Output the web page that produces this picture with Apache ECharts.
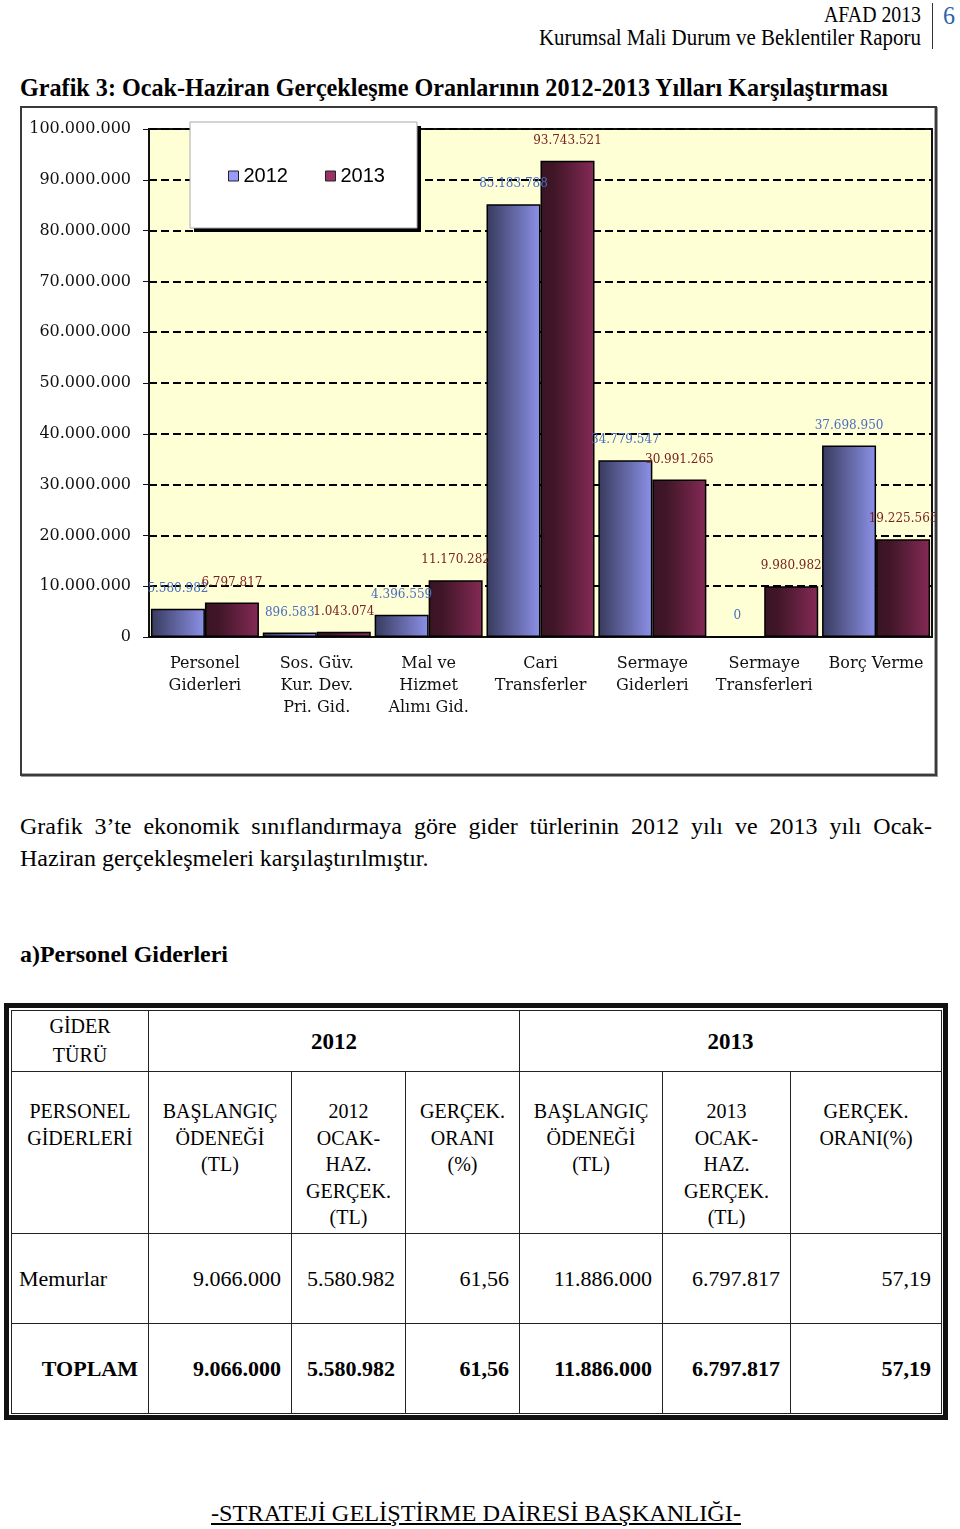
<!DOCTYPE html>
<html><head><meta charset="utf-8">
<script src="https://cdn.jsdelivr.net/npm/echarts@6/dist/echarts.min.js"></script>
<style>
html,body{margin:0;padding:0;background:#fff}
body{width:960px;height:1529px;position:relative;overflow:hidden;font-family:"Liberation Serif","Times New Roman",serif;color:#000}
.abs{position:absolute;white-space:nowrap;display:inline-block;transform-origin:left top}
#frame{position:absolute;left:20px;top:106px;width:917px;height:670px;box-sizing:border-box;border:2px solid #3a3a3a;box-shadow:inset -1px -1px 0 #aaa, 1px 1px 0 #999}
#chart{position:absolute;left:22px;top:108px;width:913px;height:666px}
#tblwrap{position:absolute;left:4px;top:1003px;width:944px;height:417px;box-sizing:border-box;border:5px solid #111;padding:2px;background:#fff}
table{border-collapse:collapse;table-layout:fixed;width:930px;height:403px}
td{border:1px solid #222;padding:0;text-align:center;vertical-align:middle;overflow:hidden}
.h1 td{font-size:20px;line-height:29px}
.h1 td.b{font-weight:bold;font-size:23px}
.h2 td{font-size:20px;line-height:26.5px;vertical-align:top;padding-top:26px}
.dr td{font-size:22px;text-align:right;padding-right:10px}
.dr td.l{text-align:left;padding-left:7px;padding-right:0}
.tot td{font-weight:bold}
</style>
</head><body>

<span class="abs" data-w="97" style="left:824px;top:2px;font-size:24px;line-height:24px">AFAD 2013</span>
<span class="abs" data-w="382" style="left:539px;top:26px;font-size:23px;line-height:23px">Kurumsal Mali Durum ve Beklentiler Raporu</span>
<div style="position:absolute;left:932px;top:3px;width:1px;height:46px;background:#333"></div>
<span class="abs" data-w="12" style="left:943px;top:3px;font-size:26px;line-height:26px;color:#2a62a8">6</span>

<span class="abs" data-w="868" style="left:20px;top:75px;font-size:26px;line-height:26px;font-weight:bold">Grafik 3: Ocak-Haziran Gerçekleşme Oranlarının 2012-2013 Yılları Karşılaştırması</span>

<div id="frame"></div>
<div id="chart"></div>

<div style="position:absolute;left:20px;top:810px;width:912px;font-size:24px;line-height:32px;text-align:justify;text-align-last:justify;white-space:nowrap">Grafik 3’te ekonomik sınıflandırmaya göre gider türlerinin 2012 yılı ve 2013 yılı Ocak-</div>
<div style="position:absolute;left:20px;top:842px;font-size:24px;line-height:32px;white-space:nowrap">Haziran gerçekleşmeleri karşılaştırılmıştır.</div>

<span class="abs" data-w="208" style="left:20px;top:942px;font-size:24px;line-height:24px;font-weight:bold">a)Personel Giderleri</span>

<div id="tblwrap">
<table>
<colgroup><col style="width:137px"><col style="width:143px"><col style="width:114px"><col style="width:114px"><col style="width:143px"><col style="width:128px"><col style="width:151px"></colgroup>
<tr class="h1" style="height:61px"><td>GİDER<br>TÜRÜ</td><td colspan="3" class="b">2012</td><td colspan="3" class="b">2013</td></tr>
<tr class="h2" style="height:162px"><td>PERSONEL<br>GİDERLERİ</td><td>BAŞLANGIÇ<br>ÖDENEĞİ<br>(TL)</td><td>2012<br>OCAK-<br>HAZ.<br>GERÇEK.<br>(TL)</td><td>GERÇEK.<br>ORANI<br>(%)</td><td>BAŞLANGIÇ<br>ÖDENEĞİ<br>(TL)</td><td>2013<br>OCAK-<br>HAZ.<br>GERÇEK.<br>(TL)</td><td>GERÇEK.<br>ORANI(%)</td></tr>
<tr class="dr" style="height:90px"><td class="l">Memurlar</td><td>9.066.000</td><td>5.580.982</td><td>61,56</td><td>11.886.000</td><td>6.797.817</td><td>57,19</td></tr>
<tr class="dr tot" style="height:90px"><td>TOPLAM</td><td>9.066.000</td><td>5.580.982</td><td>61,56</td><td>11.886.000</td><td>6.797.817</td><td>57,19</td></tr>
</table>
</div>

<span class="abs" data-w="530" style="left:211px;top:1501px;font-size:24px;line-height:24px;text-decoration:underline">-STRATEJİ GELİŞTİRME DAİRESİ BAŞKANLIĞI-</span>

<script>
const categories = ['Personel\nGiderleri', 'Sos. Güv.\nKur. Dev.\nPri. Gid.', 'Mal ve\nHizmet\nAlımı Gid.', 'Cari\nTransferler', 'Sermaye\nGiderleri', 'Sermaye\nTransferleri', 'Borç Verme'];
const seriesNames = ['2012', '2013'];
const values2012 = [5580982, 896583, 4396559, 85183788, 34779547, 0, 37698950];
const values2013 = [6797817, 1043074, 11170282, 93743521, 30991265, 9980982, 19225565];
const yMin = 0, yMax = 100000000, yStep = 10000000;

document.querySelectorAll('[data-w]').forEach(el => {
  const w = el.getBoundingClientRect().width;
  el.style.transform = 'scaleX(' + (parseFloat(el.dataset.w) / w) + ')';
});

const fmt = v => String(v).replace(/\B(?=(\d{3})+(?!\d))/g, '.');
const chart = echarts.init(document.getElementById('chart'));
const serif = 'DejaVu Serif';
chart.setOption({
  animation: false,
  grid: {left: 127, top: 21, right: 3, bottom: 137, show: true, backgroundColor: '#FFFFD6', borderColor: '#111', borderWidth: 2},
  xAxis: {
    type: 'category', data: categories,
    axisLine: {lineStyle: {color: '#111', width: 2}},
    axisTick: {show: false},
    axisLabel: {interval: 0, fontFamily: serif, fontSize: 16, color: '#111', lineHeight: 22, margin: 16}
  },
  yAxis: {
    type: 'value', min: yMin, max: yMax, interval: yStep,
    axisLine: {show: true, lineStyle: {color: '#111', width: 2}},
    axisTick: {show: true, length: 6, lineStyle: {color: '#111'}},
    axisLabel: {formatter: fmt, fontFamily: serif, fontSize: 16, color: '#111', margin: 18, padding: [4, 0, 0, 0]},
    splitLine: {lineStyle: {color: '#000', width: 2, type: [8, 4]}}
  },
  legend: {
    left: 201, top: 53, itemWidth: 10, itemHeight: 10, itemGap: 37, z: 60,
    textStyle: {fontFamily: 'Liberation Sans', fontSize: 20, color: '#000'},
    data: [
      {name: seriesNames[0], icon: 'rect', itemStyle: {color: '#9999FF', borderColor: '#222', borderWidth: 1}},
      {name: seriesNames[1], icon: 'rect', itemStyle: {color: '#993366', borderColor: '#222', borderWidth: 1}}
    ]
  },
  graphic: [
    {type: 'rect', z: 50, shape: {x: 172, y: 18, width: 227, height: 106}, style: {fill: '#000'}},
    {type: 'rect', z: 51, shape: {x: 168, y: 14, width: 227, height: 106}, style: {fill: '#fff', stroke: '#aaa', lineWidth: 1}}
  ],
  series: [
    {
      name: seriesNames[0], type: 'bar', data: values2012, barWidth: 54, barGap: '0%',
      itemStyle: {color: new echarts.graphic.LinearGradient(0, 0, 1, 0, [{offset: 0, color: '#363a5c'}, {offset: 1, color: '#8d91e8'}]), borderColor: '#000', borderWidth: 1.5},
      label: {show: true, position: 'top', distance: 14, formatter: p => fmt(p.value), fontFamily: serif, fontSize: 12, color: '#4a6cc0'}
    },
    {
      name: seriesNames[1], type: 'bar', data: values2013, barWidth: 54,
      itemStyle: {color: new echarts.graphic.LinearGradient(0, 0, 1, 0, [{offset: 0, color: '#3a1423'}, {offset: 0.25, color: '#401627'}, {offset: 1, color: '#852a56'}]), borderColor: '#000', borderWidth: 1.5},
      label: {show: true, position: 'top', distance: 14, formatter: p => fmt(p.value), fontFamily: serif, fontSize: 12, color: '#7a2222'}
    }
  ]
});
</script>
</body></html>
